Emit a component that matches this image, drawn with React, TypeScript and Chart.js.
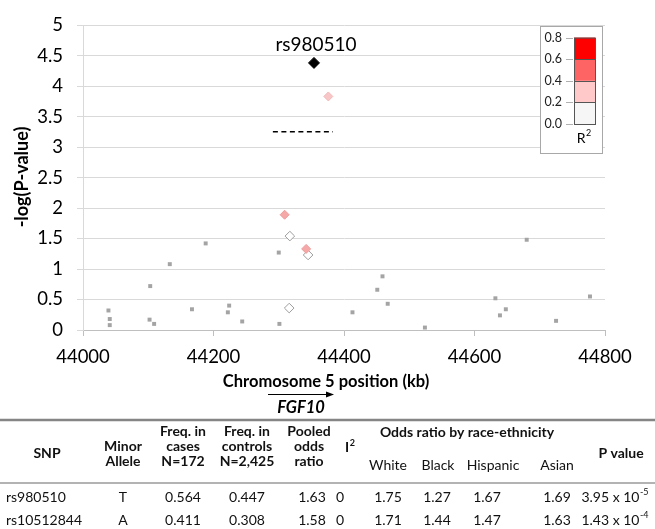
import { useEffect, useRef } from "react";
import { Chart, registerables } from "chart.js";

Chart.register(...registerables);

const FF = "Lato, 'Liberation Sans', sans-serif";

// ---- plot data (position in kb, -log10 P) ----
const greyPositions = [44039, 44041, 44041, 44103, 44102, 44109, 44133, 44167, 44188, 44224, 44222, 44244, 44300, 44301, 44413, 44451, 44459, 44467, 44524, 44632, 44639, 44648, 44680, 44725, 44777];
const greyLogP = [0.32, 0.18, 0.08, 0.72, 0.17, 0.1, 1.08, 0.34, 1.42, 0.4, 0.29, 0.14, 1.27, 0.1, 0.29, 0.66, 0.88, 0.43, 0.04, 0.52, 0.24, 0.34, 1.48, 0.15, 0.55];
const whitePositions = [44317, 44345, 44316];
const whiteLogP = [1.54, 1.23, 0.36];
const pinkPositions = [44309, 44342];
const pinkLogP = [1.89, 1.33];
const lightPinkPositions = [44376];
const lightPinkLogP = [3.83];
const leadPositions = [44354];
const leadLogP = [4.38];
const leadLabel = "rs980510";
const thresholdPositions = [44291, 44383];
const thresholdLogP = [3.25, 3.25];

const xTicks = [44000, 44200, 44400, 44600, 44800];
const yTicks = [0, 0.5, 1, 1.5, 2, 2.5, 3, 3.5, 4, 4.5, 5];

const xTitle = "Chromosome 5 position (kb)";
const yTitle = "-log(P-value)";
const geneName = "FGF10";

// ---- R² legend ----
const legendBreaks = ["0.0", "0.2", "0.4", "0.6", "0.8"];
const legendColors = ["#F6F6F6", "#FFC9C9", "#FF6464", "#FF0000"];

// ---- table ----
const snps = ["rs980510", "rs10512844"];
const minorAlleles = ["T", "A"];
const freqCases = ["0.564", "0.411"];
const freqControls = ["0.447", "0.308"];
const pooledOR = ["1.63", "1.58"];
const iSquared = ["0", "0"];
const orWhite = ["1.75", "1.71"];
const orBlack = ["1.27", "1.44"];
const orHispanic = ["1.67", "1.47"];
const orAsian = ["1.69", "1.63"];
const pMantissa = ["3.95 x 10", "1.43 x 10"];
const pExponent = ["-5", "-4"];
const raceHeaders = ["White", "Black", "Hispanic", "Asian"];

const toPts = (xs: number[], ys: number[]) => xs.map((x, i) => ({ x, y: ys[i] }));

function supText(ctx: CanvasRenderingContext2D, base: string, sup: string, x: number, y: number, fBase: string, fSup: string, align: "left" | "center" | "right", rise: number) {
  ctx.font = fBase;
  const wb = ctx.measureText(base).width;
  ctx.font = fSup;
  const ws = ctx.measureText(sup).width;
  const total = wb + ws + 0.5;
  let sx = x;
  if (align === "center") sx = x - total / 2;
  if (align === "right") sx = x - total;
  ctx.textAlign = "left";
  ctx.textBaseline = "middle";
  ctx.font = fBase;
  ctx.fillText(base, sx, y);
  ctx.font = fSup;
  ctx.fillText(sup, sx + wb + 0.5, y - rise);
}

const overlayPlugin = {
  id: "overlay",
  afterDraw(chart: any) {
    const ctx: CanvasRenderingContext2D = chart.ctx;
    const xs = chart.scales.x;
    const ys = chart.scales.y;
    ctx.save();
    ctx.fillStyle = "#000";

    // lead SNP label
    ctx.font = `19px ${FF}`;
    ctx.textAlign = "center";
    ctx.textBaseline = "middle";
    ctx.fillText(leadLabel, xs.getPixelForValue(leadPositions[0]) + 2, ys.getPixelForValue(leadLogP[0]) - 18);

    // axis titles
    ctx.save();
    ctx.translate(22, 177);
    ctx.rotate(-Math.PI / 2);
    ctx.font = `bold 18px ${FF}`;
    ctx.fillText(yTitle, 0, 0);
    ctx.restore();

    ctx.font = `bold 16.5px ${FF}`;
    ctx.fillText(xTitle, 326, 382);

    // gene arrow
    ctx.strokeStyle = "#000";
    ctx.lineWidth = 1.2;
    ctx.beginPath();
    ctx.moveTo(268, 394.5);
    ctx.lineTo(332, 394.5);
    ctx.stroke();
    ctx.beginPath();
    ctx.moveTo(334, 394.5);
    ctx.lineTo(326, 391.5);
    ctx.lineTo(326, 397.5);
    ctx.closePath();
    ctx.fill();
    ctx.font = `italic bold 16.5px ${FF}`;
    ctx.fillText(geneName, 301, 408);

    // R² legend
    ctx.fillStyle = "#fff";
    ctx.fillRect(540, 26, 63, 127);
    ctx.strokeStyle = "#A8A8A8";
    ctx.lineWidth = 1;
    ctx.strokeRect(540.5, 26.5, 62, 127);
    const barX = 574, barW = 21, yBottom = 124, step = 21.6;
    for (let i = 0; i < legendColors.length; i++) {
      ctx.fillStyle = legendColors[i];
      ctx.fillRect(barX, yBottom - (i + 1) * step, barW, step);
    }
    ctx.strokeStyle = "#555";
    ctx.strokeRect(barX + 0.5, yBottom - 4 * step + 0.5, barW, 4 * step);
    for (let i = 1; i < 4; i++) {
      const yy = Math.round(yBottom - i * step) + 0.5;
      ctx.beginPath();
      ctx.moveTo(barX, yy);
      ctx.lineTo(barX + barW, yy);
      ctx.stroke();
    }
    ctx.strokeStyle = "#B0B0B0";
    ctx.fillStyle = "#222";
    ctx.font = `12.5px ${FF}`;
    ctx.textAlign = "right";
    for (let i = 0; i < legendBreaks.length; i++) {
      const yy = yBottom - i * step;
      ctx.fillText(legendBreaks[i], 562, yy);
      ctx.beginPath();
      ctx.moveTo(566, Math.round(yy) + 0.5);
      ctx.lineTo(573, Math.round(yy) + 0.5);
      ctx.stroke();
    }
    ctx.fillStyle = "#000";
    supText(ctx, "R", "2", 584, 138, `14px ${FF}`, `9px ${FF}`, "center", 5);

    // ---- table ----
    ctx.strokeStyle = "#858585";
    ctx.lineWidth = 2.5;
    ctx.beginPath();
    ctx.moveTo(0, 420);
    ctx.lineTo(655, 420);
    ctx.stroke();
    ctx.strokeStyle = "#9A9A9A";
    ctx.lineWidth = 1.5;
    ctx.beginPath();
    ctx.moveTo(0, 483);
    ctx.lineTo(655, 483);
    ctx.stroke();

    ctx.fillStyle = "#111";
    ctx.textAlign = "center";
    ctx.textBaseline = "middle";
    const hb = `bold 14px ${FF}`;
    ctx.font = hb;
    ctx.fillText("SNP", 47, 453);
    ctx.fillText("Minor", 123, 446);
    ctx.fillText("Allele", 123, 461);
    const three = (x: number, a: string, b: string, c: string) => {
      ctx.fillText(a, x, 431);
      ctx.fillText(b, x, 446);
      ctx.fillText(c, x, 461);
    };
    three(183, "Freq. in", "cases", "N=172");
    three(247, "Freq. in", "controls", "N=2,425");
    three(309, "Pooled", "odds", "ratio");
    supText(ctx, "I", "2", 350, 447, hb, `bold 9px ${FF}`, "center", 4);
    ctx.font = hb;
    ctx.textAlign = "center";
    ctx.fillText("Odds ratio by race-ethnicity", 467, 432);
    ctx.fillText("P value", 621, 453);
    ctx.font = `14px ${FF}`;
    const raceX = [388, 438, 493, 557];
    raceHeaders.forEach((h, i) => ctx.fillText(h, raceX[i], 465));

    const rowY = [497, 520];
    ctx.font = `14px ${FF}`;
    for (let r = 0; r < snps.length; r++) {
      const yy = rowY[r];
      ctx.textAlign = "left";
      ctx.fillText(snps[r], 6, yy);
      ctx.textAlign = "center";
      ctx.fillText(minorAlleles[r], 123, yy);
      ctx.fillText(freqCases[r], 183, yy);
      ctx.fillText(freqControls[r], 247, yy);
      ctx.fillText(pooledOR[r], 312, yy);
      ctx.fillText(iSquared[r], 340, yy);
      ctx.fillText(orWhite[r], 388, yy);
      ctx.fillText(orBlack[r], 437, yy);
      ctx.fillText(orHispanic[r], 487, yy);
      ctx.fillText(orAsian[r], 557, yy);
      supText(ctx, pMantissa[r], pExponent[r], 615, yy, `14px ${FF}`, `9px ${FF}`, "center", 5);
      ctx.font = `14px ${FF}`;
    }
    ctx.restore();
  },
};

export default function App() {
  const ref = useRef<HTMLCanvasElement | null>(null);
  useEffect(() => {
    document.body.style.margin = "0";
    Chart.defaults.font.family = FF;
    const canvas = ref.current!;
    const chart = new Chart(canvas, {
      type: "scatter",
      data: {
        datasets: [
          {
            label: "lead",
            data: toPts(leadPositions, leadLogP),
            pointStyle: "rectRot",
            pointRadius: 5.5,
            backgroundColor: "#000",
            borderColor: "#000",
            borderWidth: 1,
            order: 0,
          },
          {
            label: "r2 0.2-0.4",
            data: toPts(pinkPositions, pinkLogP),
            pointStyle: "rectRot",
            pointRadius: 4.5,
            backgroundColor: "#F5A8A8",
            borderColor: "#EE9A9A",
            borderWidth: 1,
            order: 1,
          },
          {
            label: "r2 0.2-0.4 b",
            data: toPts(lightPinkPositions, lightPinkLogP),
            pointStyle: "rectRot",
            pointRadius: 4.5,
            backgroundColor: "#F8C6C6",
            borderColor: "#F2B8B8",
            borderWidth: 1,
            order: 2,
          },
          {
            label: "r2 <0.2",
            data: toPts(whitePositions, whiteLogP),
            pointStyle: "rectRot",
            pointRadius: 4.8,
            backgroundColor: "#FFFFFF",
            borderColor: "#9C9C9C",
            borderWidth: 1,
            order: 3,
          },
          {
            label: "other",
            data: toPts(greyPositions, greyLogP),
            pointStyle: "rect",
            pointRadius: 2.8,
            backgroundColor: "#A4A4A4",
            borderColor: "#A4A4A4",
            borderWidth: 0,
            order: 4,
          },
          {
            type: "line",
            label: "threshold",
            data: toPts(thresholdPositions, thresholdLogP),
            borderColor: "#000",
            borderWidth: 1.4,
            borderDash: [5, 3.5],
            pointRadius: 0,
            showLine: true,
            fill: false,
            order: 5,
          } as any,
        ],
      },
      options: {
        responsive: false,
        animation: false,
        devicePixelRatio: 1,
        layout: { padding: { left: 0, right: 50, top: 20, bottom: 0 } },
        plugins: { legend: { display: false }, tooltip: { enabled: false }, title: { display: false } },
        scales: {
          x: {
            type: "linear",
            min: 44000,
            max: 44800,
            afterBuildTicks: (s: any) => {
              s.ticks = xTicks.map((v) => ({ value: v }));
            },
            afterFit: (s: any) => {
              s.height = 199;
            },
            ticks: {
              font: { size: 18.5, family: FF },
              color: "#000",
              padding: 10,
              maxRotation: 0,
              callback: (v: any) => String(v),
            },
            grid: { drawOnChartArea: false, drawTicks: true, tickLength: 6, color: "#BFBFBF" },
            border: { display: true, color: "#BFBFBF", width: 1 },
          },
          y: {
            type: "linear",
            min: 0,
            max: 5,
            afterBuildTicks: (s: any) => {
              s.ticks = yTicks.map((v) => ({ value: v }));
            },
            afterFit: (s: any) => {
              s.width = 83;
            },
            ticks: {
              font: { size: 18.5, family: FF },
              color: "#000",
              padding: 14,
              callback: (v: any) => String(v),
            },
            grid: { color: "#D9D9D9", tickLength: 6, lineWidth: 1 },
            border: { display: true, color: "#D9D9D9", width: 1 },
          },
        },
      },
      plugins: [overlayPlugin],
    });
    return () => chart.destroy();
  }, []);
  return (
    <div style={{ width: 655, height: 529, background: "#fff" }}>
      <canvas ref={ref} width={655} height={529} style={{ width: 655, height: 529, display: "block" }} />
    </div>
  );
}
